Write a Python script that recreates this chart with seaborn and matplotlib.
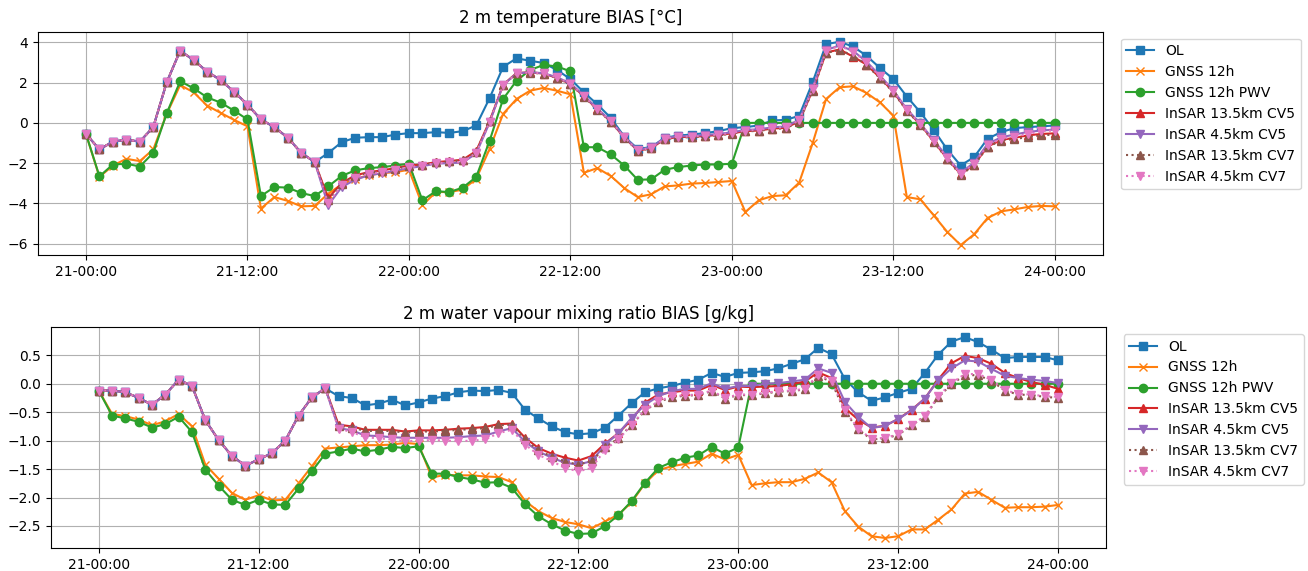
import numpy as np
import pandas as pd
import matplotlib
matplotlib.use("Agg")
import matplotlib.pyplot as plt
import matplotlib.dates as mdates
import matplotlib.ticker as mticker
import seaborn as sns

times = pd.date_range("2023-01-21 00:00", periods=73, freq="h")

titles = ["2 m temperature BIAS [°C]", "2 m water vapour mixing ratio BIAS [g/kg]"]
labels = ["OL", "GNSS 12h", "GNSS 12h PWV", "InSAR 13.5km CV5", "InSAR 4.5km CV5",
          "InSAR 13.5km CV7", "InSAR 4.5km CV7"]

# ---------------- 2 m temperature bias ----------------
t_first = [-0.55, -1.32, -0.93, -0.84, -0.93, -0.21, 2.02, 3.59, 3.12, 2.55, 2.13, 1.55,
           0.91, 0.17, -0.21, -0.74, -1.49, -1.95]

t_ol = t_first + [-1.50, -0.96, -0.74, -0.71, -0.71, -0.58, -0.51, -0.51, -0.46, -0.50, -0.41,
                  -0.13, 1.24, 2.79, 3.21, 3.09, 2.98, 2.63, 2.18, 1.52, 0.92, 0.25, -0.68,
                  -1.29, -1.21, -0.74, -0.63, -0.58, -0.51, -0.41, -0.26, -0.21, -0.13, 0.12,
                  0.15, 0.35, 2.02, 3.92, 4.03, 3.80, 3.34, 2.73, 2.18, 1.31, 0.53, -0.35,
                  -1.32, -2.12, -1.70, -0.79, -0.46, -0.26, -0.21, -0.17, -0.13]

t_gnss = [-0.55, -2.69, -2.12, -1.79, -1.90, -1.32, 0.45, 1.88, 1.52, 0.86, 0.50, 0.15,
          -0.17, -4.26, -3.69, -3.88, -4.15, -4.13, -3.52, -3.06, -2.78, -2.61, -2.50, -2.45,
          -2.33, -4.10, -3.44, -3.44, -3.32, -2.78, -1.29, 0.45, 1.19, 1.60, 1.74, 1.60,
          1.42, -2.48, -2.25, -2.64, -3.24, -3.69, -3.55, -3.16, -3.11, -3.02, -2.99, -2.94,
          -2.89, -4.43, -3.85, -3.64, -3.60, -2.97, -1.01, 1.19, 1.77, 1.82, 1.49, 1.02,
          0.36, -3.69, -3.80, -4.60, -5.42, -6.08, -5.54, -4.73, -4.40, -4.30, -4.18, -4.13,
          -4.15]

t_pwv = [-0.55, -2.66, -2.07, -2.03, -2.17, -1.49, 0.48, 2.07, 1.72, 1.27, 1.01, 0.61,
         0.17, -3.64, -3.19, -3.22, -3.49, -3.64, -3.16, -2.64, -2.36, -2.25, -2.20, -2.12,
         -2.03, -3.85, -3.40, -3.44, -3.22, -2.69, -0.88, 1.19, 2.10, 2.63, 2.88, 2.81,
         2.56, -1.21, -1.21, -1.57, -2.12, -2.83, -2.81, -2.33, -2.20, -2.12, -2.07, -2.07,
         -2.03, 0.0, 0.0, 0.0, 0.0, 0.0, 0.0, 0.0, 0.0, 0.0, 0.0, 0.0,
         0.0, 0.0, 0.0, 0.0, 0.0, 0.0, 0.0, 0.0, 0.0, 0.0, 0.0, 0.0, 0.0]

t_ins135_cv5 = t_first + [-3.75, -2.99, -2.61, -2.45, -2.36, -2.25, -2.12, -2.07, -1.95, -1.90,
                          -1.83, -1.40, 0.10, 1.90, 2.48, 2.52, 2.45, 2.24, 1.93, 1.32, 0.68,
                          0.06, -0.72, -1.38, -1.26, -0.81, -0.70, -0.70, -0.65, -0.60, -0.52,
                          -0.41, -0.38, -0.28, -0.25, 0.08, 1.62, 3.50, 3.65, 3.30, 2.90, 2.25,
                          1.55, 0.62, -0.08, -0.92, -1.78, -2.55, -2.08, -1.18, -0.85, -0.74,
                          -0.62, -0.55, -0.52]

t_ins45_cv5 = t_first + [-4.10, -3.19, -2.83, -2.61, -2.50, -2.38, -2.25, -2.15, -2.03, -2.00,
                         -1.97, -1.52, 0.03, 1.88, 2.46, 2.52, 2.47, 2.27, 1.96, 1.36, 0.71,
                         0.10, -0.69, -1.35, -1.22, -0.76, -0.66, -0.66, -0.60, -0.55, -0.47,
                         -0.35, -0.32, -0.22, -0.18, 0.15, 1.72, 3.62, 3.85, 3.58, 3.05, 2.35,
                         1.62, 0.68, -0.03, -0.86, -1.70, -2.48, -1.98, -1.05, -0.72, -0.58,
                         -0.45, -0.38, -0.33]

t_ins135_cv7 = t_first + [-3.85, -3.02, -2.65, -2.48, -2.40, -2.28, -2.15, -2.09, -1.97, -1.92,
                          -1.86, -1.43, 0.08, 1.89, 2.47, 2.50, 2.44, 2.23, 1.92, 1.30, 0.66,
                          0.05, -0.73, -1.39, -1.27, -0.82, -0.72, -0.72, -0.67, -0.62, -0.54,
                          -0.42, -0.40, -0.30, -0.27, 0.06, 1.60, 3.48, 3.62, 3.35, 2.88, 2.22,
                          1.52, 0.60, -0.10, -0.95, -1.80, -2.60, -2.10, -1.20, -0.88, -0.80,
                          -0.71, -0.62, -0.58]

t_ins45_cv7 = t_first + [-4.00, -3.10, -2.73, -2.53, -2.45, -2.33, -2.20, -2.12, -2.00, -1.97,
                         -1.95, -1.49, 0.05, 1.88, 2.46, 2.51, 2.46, 2.26, 1.95, 1.34, 0.69,
                         0.08, -0.71, -1.37, -1.24, -0.79, -0.68, -0.68, -0.63, -0.58, -0.50,
                         -0.38, -0.35, -0.25, -0.21, 0.12, 1.69, 3.59, 3.83, 3.55, 3.01, 2.31,
                         1.60, 0.66, -0.05, -0.88, -1.74, -2.53, -2.03, -1.12, -0.79, -0.68,
                         -0.55, -0.41, -0.38]

# ---------------- 2 m water vapour mixing ratio bias ----------------
q_first = [-0.12, -0.12, -0.15, -0.25, -0.37, -0.19, 0.07, -0.04, -0.64, -0.99, -1.27, -1.44,
           -1.33, -1.22, -1.00, -0.56, -0.24, -0.08]

q_ol = q_first + [-0.22, -0.25, -0.38, -0.35, -0.28, -0.38, -0.33, -0.26, -0.22, -0.15, -0.12,
                  -0.13, -0.11, -0.16, -0.46, -0.61, -0.75, -0.85, -0.89, -0.87, -0.77, -0.56,
                  -0.34, -0.15, -0.08, -0.04, 0.02, 0.07, 0.19, 0.12, 0.19, 0.20, 0.22, 0.27,
                  0.35, 0.43, 0.63, 0.52, 0.08, -0.15, -0.30, -0.24, -0.16, -0.09, 0.19, 0.51,
                  0.74, 0.82, 0.73, 0.60, 0.45, 0.47, 0.47, 0.47, 0.41]

q_gnss = [-0.12, -0.53, -0.57, -0.63, -0.73, -0.66, -0.53, -0.75, -1.42, -1.67, -1.92, -2.04,
          -1.96, -2.05, -2.04, -1.75, -1.45, -1.14, -1.12, -1.10, -1.08, -1.08, -1.07, -1.04,
          -1.06, -1.65, -1.60, -1.61, -1.61, -1.63, -1.64, -1.73, -2.06, -2.24, -2.36, -2.43,
          -2.47, -2.54, -2.42, -2.30, -2.08, -1.75, -1.52, -1.45, -1.41, -1.37, -1.23, -1.33,
          -1.25, -1.78, -1.75, -1.73, -1.73, -1.67, -1.56, -1.73, -2.24, -2.51, -2.68, -2.71,
          -2.68, -2.56, -2.56, -2.39, -2.21, -1.93, -1.90, -2.04, -2.18, -2.17, -2.17, -2.16,
          -2.13]

q_pwv = [-0.12, -0.56, -0.61, -0.67, -0.77, -0.71, -0.58, -0.85, -1.51, -1.79, -2.04, -2.13,
         -2.04, -2.12, -2.13, -1.84, -1.54, -1.23, -1.19, -1.14, -1.19, -1.16, -1.11, -1.13,
         -1.10, -1.58, -1.58, -1.64, -1.68, -1.74, -1.73, -1.83, -2.12, -2.33, -2.47, -2.58,
         -2.64, -2.63, -2.50, -2.31, -2.06, -1.74, -1.48, -1.38, -1.30, -1.26, -1.11, -1.23,
         -1.12, 0.0, 0.0, 0.0, 0.0, 0.0, 0.0, 0.0, 0.0, 0.0, 0.0, 0.0,
         0.0, 0.0, 0.0, 0.0, 0.0, 0.0, 0.0, 0.0, 0.0, 0.0, 0.0, 0.0, 0.0]

q_ins135_cv5 = q_first + [-0.72, -0.75, -0.81, -0.81, -0.81, -0.84, -0.82, -0.82, -0.81, -0.79,
                          -0.78, -0.76, -0.71, -0.70, -0.95, -1.13, -1.23, -1.30, -1.35, -1.27,
                          -1.05, -0.87, -0.63, -0.33, -0.19, -0.15, -0.12, -0.12, -0.02, -0.11,
                          -0.05, -0.06, -0.05, -0.04, -0.01, 0.04, 0.20, 0.10, -0.43, -0.63,
                          -0.77, -0.74, -0.62, -0.46, -0.26, 0.07, 0.36, 0.49, 0.45, 0.35, 0.19,
                          0.10, 0.03, -0.02, -0.09]

q_ins45_cv5 = q_first + [-0.78, -0.82, -0.91, -0.92, -0.94, -0.95, -0.95, -0.95, -0.95, -0.94,
                         -0.92, -0.91, -0.84, -0.78, -1.02, -1.19, -1.30, -1.39, -1.42, -1.36,
                         -1.07, -0.87, -0.60, -0.37, -0.22, -0.13, -0.09, -0.09, 0.01, -0.09,
                         -0.04, -0.04, 0.00, 0.01, 0.04, 0.07, 0.27, 0.19, -0.32, -0.58, -0.78,
                         -0.74, -0.62, -0.47, -0.26, 0.06, 0.27, 0.41, 0.39, 0.26, 0.14, 0.10,
                         0.07, 0.05, 0.01]

q_ins135_cv7 = q_first + [-0.74, -0.77, -0.83, -0.83, -0.83, -0.86, -0.84, -0.84, -0.83, -0.81,
                          -0.80, -0.78, -0.73, -0.72, -0.98, -1.17, -1.28, -1.37, -1.42, -1.36,
                          -1.12, -0.96, -0.72, -0.47, -0.32, -0.24, -0.21, -0.20, -0.13, -0.26,
                          -0.20, -0.20, -0.17, -0.14, -0.13, -0.10, 0.14, 0.03, -0.49, -0.80,
                          -0.98, -0.96, -0.90, -0.73, -0.58, -0.24, -0.01, 0.15, 0.15, 0.05,
                          -0.12, -0.19, -0.20, -0.23, -0.25]

q_ins45_cv7 = q_first + [-0.79, -0.85, -0.94, -0.96, -0.98, -1.01, -1.00, -0.99, -1.00, -1.01,
                         -1.00, -0.98, -0.87, -0.81, -1.07, -1.25, -1.36, -1.48, -1.54, -1.48,
                         -1.16, -0.98, -0.72, -0.46, -0.31, -0.22, -0.20, -0.19, -0.12, -0.25,
                         -0.19, -0.19, -0.16, -0.13, -0.12, -0.09, 0.16, 0.05, -0.47, -0.79,
                         -0.97, -0.95, -0.89, -0.72, -0.57, -0.22, 0.01, 0.17, 0.17, 0.07,
                         -0.11, -0.18, -0.19, -0.22, -0.23]

temp_series = [t_ol, t_gnss, t_pwv, t_ins135_cv5, t_ins45_cv5, t_ins135_cv7, t_ins45_cv7]
q_series = [q_ol, q_gnss, q_pwv, q_ins135_cv5, q_ins45_cv5, q_ins135_cv7, q_ins45_cv7]
for s in temp_series + q_series:
    assert len(s) == 73, len(s)

colors = sns.color_palette("tab10", 7)
markers = ["s", "x", "o", "^", "v", "^", "v"]
styles = ["-", "-", "-", "-", "-", ":", ":"]

fig = plt.figure(figsize=(13.08, 5.71), dpi=100)
ax1 = fig.add_axes([0.0287, 0.5529, 0.8148, 0.3916])
ax2 = fig.add_axes([0.0388, 0.0403, 0.8068, 0.3870])

for ax, series, title in [(ax1, temp_series, titles[0]), (ax2, q_series, titles[1])]:
    for vals, lab, col, mk, ls in zip(series, labels, colors, markers, styles):
        df = pd.DataFrame({"time": times, "bias": vals})
        sns.lineplot(data=df, x="time", y="bias", ax=ax, color=col, marker=mk,
                     linestyle=ls, label=lab, markersize=6, markeredgecolor=col,
                     markeredgewidth=1.0, linewidth=1.5)
    ax.set_title(title, fontsize=12)
    ax.set_xlabel("")
    ax.set_ylabel("")
    ax.grid(True, color="#b0b0b0", linewidth=0.8)
    ax.xaxis.set_major_locator(mdates.HourLocator(byhour=[0, 12]))
    ax.xaxis.set_major_formatter(mdates.DateFormatter("%d-%H:%M"))
    ax.tick_params(labelsize=10)
    ax.legend(loc="upper left", bbox_to_anchor=(1.01, 1), fontsize=10)

ax1.yaxis.set_major_locator(mticker.MultipleLocator(2))
ax2.yaxis.set_major_locator(mticker.MultipleLocator(0.5))

fig.savefig("out.png", dpi=100)
